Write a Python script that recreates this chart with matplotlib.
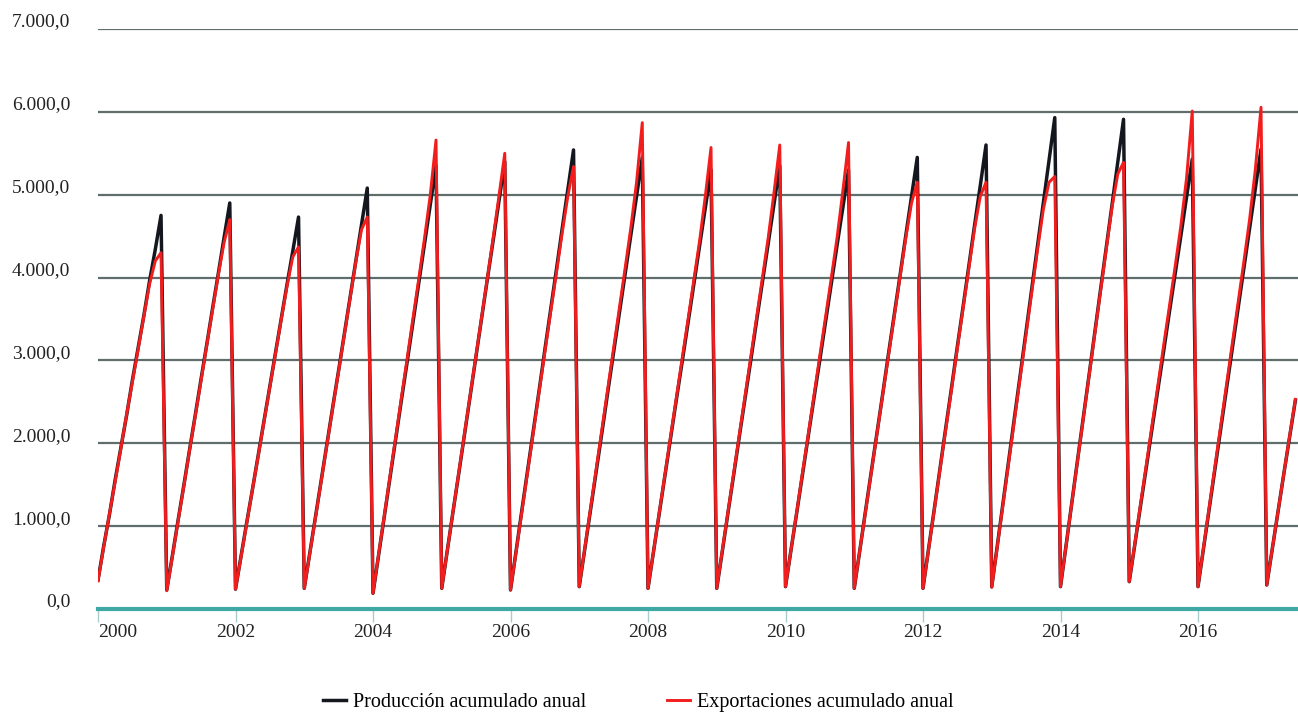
import matplotlib.pyplot as plt
import matplotlib.transforms as mtransforms

plt.rcParams['font.family'] = ['Liberation Serif', 'DejaVu Serif']

years = list(range(2000, 2018))

# monthly cumulative values, one row per year (2017: Jan-Jun)
produccion = [
    [350, 760, 1140, 1560, 1950, 2340, 2760, 3150, 3540, 3960, 4340, 4750],
    [230, 650, 1080, 1500, 1930, 2350, 2780, 3200, 3630, 4050, 4480, 4900],
    [240, 650, 1060, 1460, 1870, 2280, 2690, 3100, 3510, 3920, 4320, 4730],
    [250, 690, 1130, 1570, 2010, 2450, 2880, 3320, 3760, 4200, 4640, 5080],
    [190, 660, 1130, 1600, 2070, 2540, 3000, 3470, 3940, 4410, 4880, 5350],
    [250, 720, 1190, 1650, 2120, 2590, 3060, 3530, 4000, 4460, 4930, 5400],
    [230, 710, 1200, 1680, 2160, 2640, 3130, 3610, 4090, 4580, 5060, 5540],
    [270, 740, 1210, 1680, 2150, 2630, 3100, 3570, 4040, 4510, 4980, 5450],
    [250, 710, 1170, 1630, 2090, 2550, 3000, 3460, 3920, 4380, 4840, 5300],
    [250, 710, 1180, 1640, 2110, 2570, 3030, 3500, 3960, 4420, 4890, 5350],
    [270, 730, 1180, 1640, 2100, 2560, 3010, 3470, 3930, 4390, 4840, 5300],
    [250, 720, 1200, 1670, 2140, 2610, 3090, 3560, 4030, 4510, 4980, 5450],
    [250, 740, 1220, 1710, 2200, 2680, 3170, 3650, 4140, 4630, 5110, 5600],
    [270, 780, 1300, 1810, 2330, 2840, 3360, 3870, 4390, 4900, 5420, 5930],
    [270, 780, 1300, 1810, 2320, 2830, 3350, 3860, 4370, 4880, 5400, 5910],
    [330, 790, 1260, 1720, 2190, 2650, 3110, 3580, 4040, 4500, 4970, 5430],
    [270, 750, 1230, 1710, 2190, 2670, 3150, 3630, 4110, 4590, 5070, 5550],
    [290, 740, 1190, 1640, 2080, 2520],
]

exportaciones = [
    [340, 750, 1150, 1540, 1940, 2350, 2740, 3130, 3530, 3920, 4200, 4300],
    [220, 640, 1070, 1490, 1920, 2340, 2760, 3190, 3610, 4030, 4420, 4700],
    [240, 640, 1050, 1460, 1860, 2270, 2680, 3090, 3500, 3900, 4250, 4370],
    [250, 680, 1120, 1560, 2000, 2440, 2870, 3310, 3750, 4190, 4580, 4730],
    [190, 670, 1140, 1620, 2090, 2570, 3040, 3520, 3990, 4480, 5000, 5660],
    [250, 720, 1190, 1660, 2130, 2600, 3070, 3540, 4010, 4490, 4990, 5500],
    [230, 700, 1180, 1660, 2140, 2620, 3100, 3580, 4050, 4530, 4980, 5340],
    [270, 750, 1230, 1710, 2190, 2670, 3150, 3630, 4110, 4600, 5150, 5870],
    [250, 710, 1180, 1640, 2110, 2570, 3040, 3500, 3970, 4440, 4980, 5570],
    [250, 720, 1190, 1660, 2130, 2600, 3070, 3540, 4010, 4490, 5030, 5600],
    [270, 730, 1190, 1660, 2120, 2590, 3060, 3530, 4000, 4480, 5040, 5630],
    [250, 720, 1190, 1660, 2130, 2600, 3070, 3540, 4010, 4480, 4900, 5150],
    [250, 730, 1210, 1700, 2180, 2660, 3150, 3630, 4110, 4590, 4980, 5150],
    [260, 770, 1280, 1790, 2300, 2810, 3320, 3830, 4340, 4820, 5150, 5220],
    [270, 780, 1290, 1800, 2310, 2820, 3330, 3840, 4350, 4850, 5250, 5390],
    [330, 800, 1280, 1750, 2230, 2700, 3180, 3650, 4130, 4620, 5200, 6010],
    [270, 760, 1250, 1740, 2230, 2720, 3210, 3700, 4190, 4700, 5300, 6055],
    [290, 740, 1190, 1640, 2090, 2530],
]

x_ticks = [2000, 2002, 2004, 2006, 2008, 2010, 2012, 2014, 2016]
y_ticks = [0, 1000, 2000, 3000, 4000, 5000, 6000, 7000]
y_labels = ['0,0', '1.000,0', '2.000,0', '3.000,0', '4.000,0', '5.000,0', '6.000,0', '7.000,0']

# month positions as fractional years
x_prod = [y + m / 12 for y, row in zip(years, produccion) for m in range(len(row))]
v_prod = [v for row in produccion for v in row]
x_exp = [y + m / 12 for y, row in zip(years, exportaciones) for m in range(len(row))]
v_exp = [v for row in exportaciones for v in row]

fig = plt.figure(figsize=(12.98, 7.15), dpi=100)
ax = fig.add_axes([98 / 1298, 1 - 609 / 715, 1200 / 1298, 580 / 715])

for yv in y_ticks[1:]:
    ax.axhline(yv, color='#5f6d6d', linewidth=1.6, zorder=1)

ax.plot(x_prod, v_prod, color='#15171f', linewidth=2.5, label='Producción acumulado anual', zorder=3)
ax.plot(x_exp, v_exp, color='#f21d1d', linewidth=2.1, label='Exportaciones acumulado anual', zorder=4)

ax.set_xlim(2000, 2000 + 1200 / 68.75)
ax.set_ylim(0, 7000)

for s in ['top', 'right', 'left']:
    ax.spines[s].set_visible(False)
ax.spines['bottom'].set_color('#3fa7a4')
ax.spines['bottom'].set_linewidth(3)

ax.set_xticks(x_ticks)
ax.set_xticklabels([str(t) for t in x_ticks])
ax.tick_params(axis='x', colors='#a8cccc', length=9, width=1, pad=1.5,
               labelsize=14, labelcolor='#222222')
ax.get_xticklabels()[0].set_horizontalalignment('left')

ax.set_yticks(y_ticks)
ax.set_yticklabels(y_labels)
ax.tick_params(axis='y', length=0, pad=20, labelsize=14, labelcolor='#222222')
shift = mtransforms.ScaledTranslation(0, 9 / 100, fig.dpi_scale_trans)
for lab in ax.get_yticklabels():
    lab.set_transform(lab.get_transform() + shift)

fig.legend(loc='center', bbox_to_anchor=(0.492, 0.017), ncol=2, frameon=False,
           fontsize=14.5, handlelength=1.15, handletextpad=0.35, columnspacing=4.0)

fig.savefig('out.png', dpi=100)
